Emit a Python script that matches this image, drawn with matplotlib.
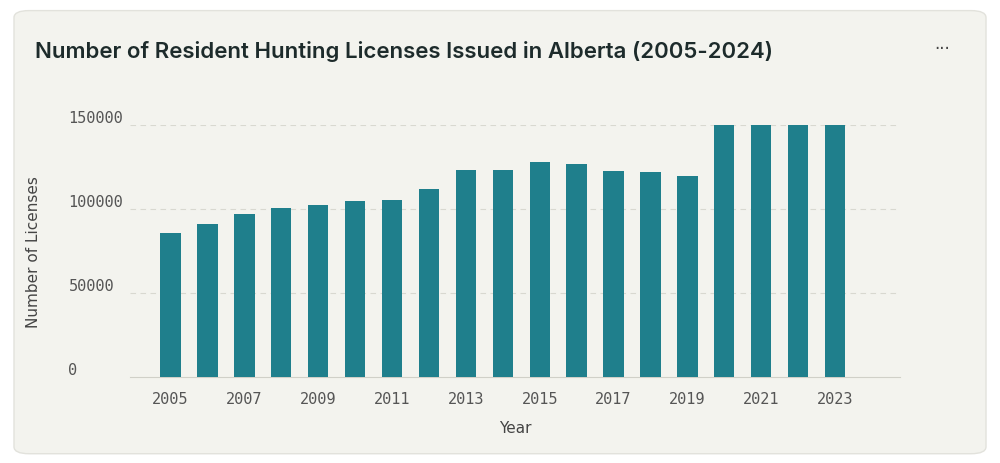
import matplotlib
matplotlib.use("Agg")
import matplotlib.pyplot as plt
from matplotlib.patches import FancyBboxPatch

years = list(range(2005, 2024))
licenses = [85700, 91000, 97000, 100600, 102400, 104800, 105400, 111900, 123200, 123200,
            128000, 126800, 122600, 122000, 119600, 151800, 151200, 152400, 150600]
yticks = [0, 50000, 100000, 150000]
xticks = list(range(2005, 2024, 2))

fig = plt.figure(figsize=(10, 4.64), dpi=100)
fig.patch.set_facecolor("white")
card = FancyBboxPatch((0.014, 0.02), 0.972, 0.955, boxstyle="round,pad=0,rounding_size=0.015",
                      transform=fig.transFigure, facecolor="#f3f3ee", edgecolor="#e2e2dc", lw=1,
                      zorder=-10)
fig.patches.append(card)

ax = fig.add_axes([0.13, 1 - 378/464, 0.77, 252/464])
ax.set_zorder(5)
ax.set_facecolor("none")
ax.bar(years, licenses, width=0.55, color="#1f7f8c", zorder=3)
ax.set_xlim(2003.9, 2024.76)
ax.set_ylim(0, 150000)
for s in ["top", "right", "left"]:
    ax.spines[s].set_visible(False)
ax.spines["bottom"].set_color("#d0d0c8")
ax.set_yticks(yticks)
ax.set_yticklabels([])
ax.tick_params(axis="y", length=0)
for v in yticks:
    ax.text(-0.08, v, str(v), transform=ax.get_yaxis_transform(), ha="left", va="bottom",
            fontsize=11, family="DejaVu Sans Mono", color="#555555")
    if v > 0:
        ax.axhline(v, color="#d8d8d0", ls=(0, (5, 4)), lw=0.8, zorder=1)
ax.set_xticks(xticks)
ax.set_xticklabels([str(x) for x in xticks], family="DejaVu Sans Mono", fontsize=11, color="#555555")
ax.tick_params(axis="x", length=0, pad=10)
ax.set_xlabel("Year", fontsize=11, color="#444444", labelpad=10)
ax.set_ylabel("Number of Licenses", fontsize=11, color="#444444", labelpad=12)
ax.yaxis.set_label_coords(-0.115, 0.5)

fig.text(0.035, 0.89, "Number of Resident Hunting Licenses Issued in Alberta (2005-2024)",
         fontsize=16, fontweight="semibold", family="Inter", color="#1d2b2b", va="center")
fig.text(0.942, 0.895, "···", fontsize=12, color="#444444", ha="center", va="center")

fig.savefig("out.png", dpi=100, facecolor="white")
